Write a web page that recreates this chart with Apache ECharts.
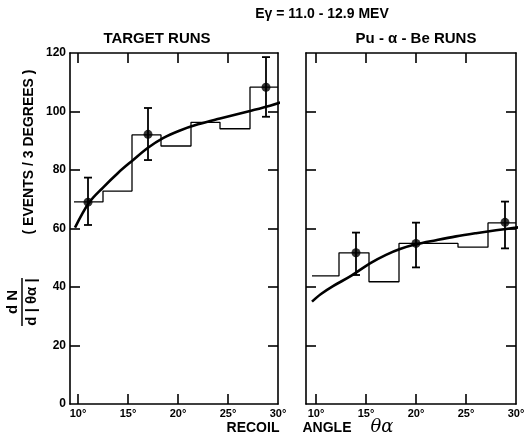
<!DOCTYPE html>
<html>
<head>
<meta charset="utf-8">
<script src="https://cdn.jsdelivr.net/npm/echarts@6/dist/echarts.min.js"></script>
<style>html,body{margin:0;padding:0;background:#fff}#c{width:528px;height:438px}</style>
</head>
<body>
<div id="c"></div>
<script>
// ---- data ----
const xTicks = [10, 15, 20, 25, 30];
const yTicks = [0, 20, 40, 60, 80, 100, 120];

// Target runs (left panel)
const leftBinEdges = [9.6, 12.5, 15.4, 18.3, 21.3, 24.2, 27.2, 30.0];
const leftCounts = [69.1, 72.8, 92.0, 88.2, 96.3, 94.1, 108.3];
const leftPtAngle = [11.0, 17.0, 28.8];
const leftPtValue = [69.0, 92.2, 108.3];
const leftPtLow = [61.2, 83.4, 98.2];
const leftPtHigh = [77.4, 101.2, 118.6];
const leftCurveAngle = [9.7, 11.1, 12.5, 14.0, 15.4, 17.0, 18.5, 20.2, 22.0, 24.2, 27.2, 29.2, 30.7];
const leftCurveValue = [60.3, 68.8, 74.0, 79.0, 83.1, 87.6, 90.9, 93.5, 95.6, 97.6, 100.2, 102.0, 103.6];

// Pu-α-Be runs (right panel)
const rightBinEdges = [9.6, 12.3, 15.3, 18.3, 21.3, 24.2, 27.2, 30.0];
const rightCounts = [43.8, 51.7, 41.8, 54.9, 54.9, 53.6, 61.9];
const rightPtAngle = [14.0, 20.0, 28.9];
const rightPtValue = [51.7, 54.9, 62.1];
const rightPtLow = [44.1, 46.7, 53.2];
const rightPtHigh = [58.6, 62.0, 69.2];
const rightCurveAngle = [9.6, 10.5, 11.7, 13.5, 15.4, 17.0, 18.4, 20.0, 22.0, 24.0, 26.0, 28.0, 30.0, 30.4];
const rightCurveValue = [35.0, 37.6, 40.3, 43.8, 48.1, 51.0, 53.0, 54.6, 56.0, 57.3, 58.4, 59.4, 60.3, 60.5];

// ---- helpers ----
function stepData(edges, vals) {
  const d = [];
  for (let i = 0; i < vals.length; i++) {
    d.push([edges[i], vals[i]]);
    d.push([edges[i + 1], vals[i]]);
  }
  return d;
}
function zip(a, b) { return a.map((v, i) => [v, b[i]]); }
function zip3(a, b, c) { return a.map((v, i) => [v, b[i], c[i]]); }

const FONT = 'Liberation Sans';
const lineStyle = { color: '#000', width: 1.6 };

function xAx(grid, pos, min, max, showLabel) {
  return {
    type: 'value', gridIndex: grid, position: pos, min: min, max: max,
    axisLine: { show: true, onZero: false, lineStyle: lineStyle },
    axisTick: { show: true, inside: true, length: 10, lineStyle: lineStyle, customValues: [10, 15, 20, 25] },
    axisLabel: { show: showLabel, customValues: xTicks, formatter: v => v + '°', margin: 4,
      fontFamily: FONT, fontWeight: 'bold', fontSize: 11, color: '#000' },
    splitLine: { show: false }
  };
}
function yAx(grid, pos, showLabel) {
  return {
    type: 'value', gridIndex: grid, position: pos, min: 0, max: 120,
    axisLine: { show: true, onZero: false, lineStyle: lineStyle },
    axisTick: { show: true, inside: true, length: 10, lineStyle: lineStyle, customValues: [20, 40, 60, 80, 100] },
    axisLabel: { show: showLabel, customValues: yTicks, margin: 4,
      fontFamily: FONT, fontWeight: 'bold', fontSize: 12, color: '#000' },
    splitLine: { show: false }
  };
}

function errRender(params, api) {
  const x = api.value(0);
  const lo = api.coord([x, api.value(1)]);
  const hi = api.coord([x, api.value(2)]);
  const w = 4;
  const st = { stroke: '#000', lineWidth: 1.8 };
  return {
    type: 'group', children: [
      { type: 'line', shape: { x1: lo[0], y1: lo[1], x2: hi[0], y2: hi[1] }, style: st },
      { type: 'line', shape: { x1: lo[0] - w, y1: lo[1], x2: lo[0] + w, y2: lo[1] }, style: st },
      { type: 'line', shape: { x1: hi[0] - w, y1: hi[1], x2: hi[0] + w, y2: hi[1] }, style: st }
    ]
  };
}

function panelSeries(xi, yi, edges, counts, pa, pv, pl, ph, ca, cv) {
  return [
    { type: 'line', xAxisIndex: xi, yAxisIndex: yi, data: stepData(edges, counts), symbol: 'none',
      lineStyle: { color: '#000', width: 1.3 }, silent: true, animation: false },
    { type: 'line', xAxisIndex: xi, yAxisIndex: yi, data: zip(ca, cv), symbol: 'none', smooth: 0.35,
      clip: false, lineStyle: { color: '#000', width: 2.6 }, silent: true, animation: false },
    { type: 'custom', xAxisIndex: xi, yAxisIndex: yi, data: zip3(pa, pl, ph), renderItem: errRender,
      encode: { x: 0, y: [1, 2] }, silent: true, animation: false },
    { type: 'scatter', xAxisIndex: xi, yAxisIndex: yi, data: zip(pa, pv), symbol: 'circle', symbolSize: 9,
      itemStyle: { color: '#000' }, silent: true, animation: false }
  ];
}

const chart = echarts.init(document.getElementById('c'), null, { renderer: 'canvas' });
chart.setOption({
  backgroundColor: '#fff',
  animation: false,
  grid: [
    { left: 70, top: 53, width: 208, height: 351 },
    { left: 306, top: 53, width: 210, height: 351 }
  ],
  xAxis: [
    xAx(0, 'bottom', 9.2, 30, true),
    xAx(0, 'top', 9.2, 30, false),
    xAx(1, 'bottom', 9.0, 30, true),
    xAx(1, 'top', 9.0, 30, false)
  ],
  yAxis: [
    yAx(0, 'left', true),
    yAx(0, 'right', false),
    yAx(1, 'left', false),
    yAx(1, 'right', false)
  ],
  series: [].concat(
    panelSeries(0, 0, leftBinEdges, leftCounts, leftPtAngle, leftPtValue, leftPtLow, leftPtHigh, leftCurveAngle, leftCurveValue),
    panelSeries(2, 2, rightBinEdges, rightCounts, rightPtAngle, rightPtValue, rightPtLow, rightPtHigh, rightCurveAngle, rightCurveValue)
  ),
  graphic: [
    { type: 'text', x: 322, y: 14, style: { text: 'Eγ = 11.0 - 12.9 MEV', align: 'center', verticalAlign: 'middle',
      font: 'bold 14px "Liberation Sans"', fill: '#000' } },
    { type: 'text', x: 157, y: 39, style: { text: 'TARGET RUNS', align: 'center', verticalAlign: 'middle',
      font: 'bold 15px "Liberation Sans"', fill: '#000' } },
    { type: 'text', x: 416, y: 39, style: { text: 'Pu - α - Be RUNS', align: 'center', verticalAlign: 'middle',
      font: 'bold 15px "Liberation Sans"', fill: '#000' } },
    { type: 'text', x: 253, y: 428, style: { text: 'RECOIL', align: 'center', verticalAlign: 'middle',
      font: 'bold 14px "Liberation Sans"', fill: '#000' } },
    { type: 'text', x: 327, y: 428, style: { text: 'ANGLE', align: 'center', verticalAlign: 'middle',
      font: 'bold 14px "Liberation Sans"', fill: '#000' } },
    { type: 'text', x: 382, y: 427, style: { text: 'θα', align: 'center', verticalAlign: 'middle',
      font: 'italic 18px "DejaVu Serif"', fill: '#000' } },
    { type: 'text', x: 29, y: 152, rotation: Math.PI / 2, style: { text: '( EVENTS / 3 DEGREES )', align: 'center',
      verticalAlign: 'middle', font: 'bold 14px "Liberation Sans"', fill: '#000' } },
    { type: 'group', x: 22, y: 302, rotation: Math.PI / 2, children: [
      { type: 'text', x: 0, y: -9, style: { text: 'd N', align: 'center', verticalAlign: 'middle',
        font: 'bold 15px "Liberation Sans"', fill: '#000' } },
      { type: 'line', shape: { x1: -24, y1: 0, x2: 24, y2: 0 }, style: { stroke: '#000', lineWidth: 1.5 } },
      { type: 'text', x: 0, y: 10, style: { text: 'd | θα |', align: 'center', verticalAlign: 'middle',
        font: 'bold 15px "Liberation Sans"', fill: '#000' } }
    ] }
  ]
});
</script>
</body>
</html>
